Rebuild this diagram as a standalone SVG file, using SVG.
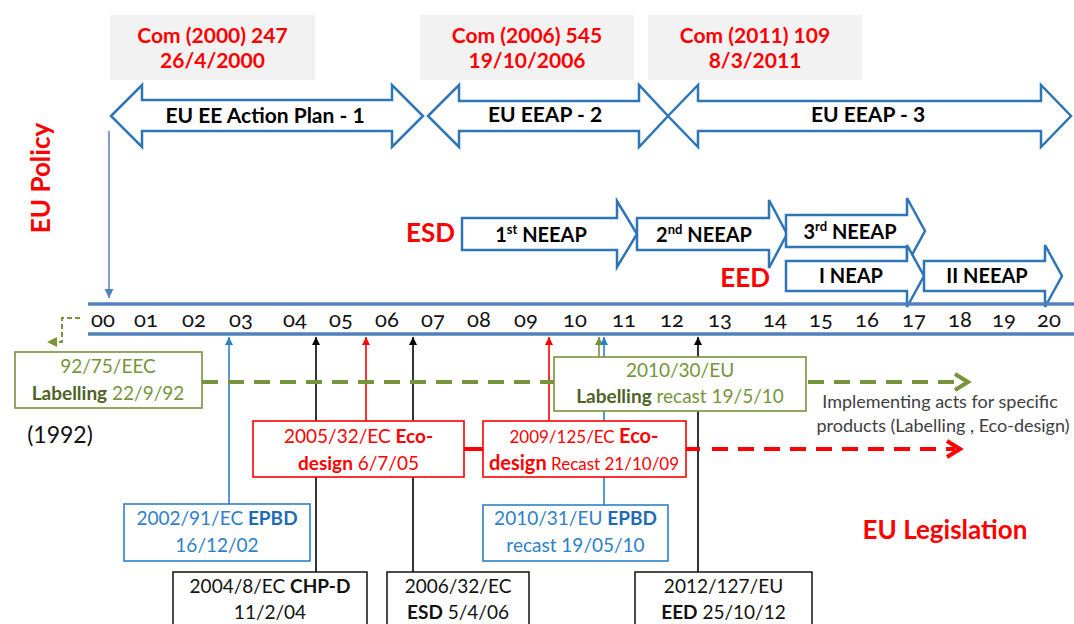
<svg xmlns="http://www.w3.org/2000/svg" width="1074" height="624" viewBox="0 0 1074 624">
<style>
text{font-family:Lato,"Liberation Sans",sans-serif}
.com{font-size:21px;font-weight:bold;fill:#ff0000;text-anchor:middle}
.al{font-size:21px;font-weight:bold;fill:#000;text-anchor:middle}
.big{stroke:#2e75b6;stroke-width:2.5;fill:#fff;stroke-linejoin:miter}
.nl{font-size:20px;font-weight:bold;fill:#000;text-anchor:middle}
.tl{font-size:22px;fill:#111;text-anchor:middle;font-variant-numeric:oldstyle-nums}
.rl{font-size:26px;font-weight:bold;fill:#ff0000}
.bx{font-size:19px;text-anchor:middle}
.b{font-weight:bold}
.gbox{fill:#fff;stroke:#77933c;stroke-width:1.6}
.rbox{fill:#fff;stroke:#ff0000;stroke-width:1.6}
.bbox{fill:#fff;stroke:#2e80c8;stroke-width:1.6}
.kbox{fill:#fff;stroke:#000;stroke-width:1.4}
.gt{fill:#77933c}
.gd{fill:#4f6228}
.rt{fill:#ff0000}
.bt{fill:#2e80c8}
.bd{fill:#1f6ab8}
.kt{fill:#111}
</style>
<defs>
<marker id="mB" viewBox="0 0 8 8" refX="8" refY="4" markerWidth="8" markerHeight="8" markerUnits="userSpaceOnUse" orient="auto"><path d="M0,0 L8,4 L0,8 z" fill="#2e80c8"/></marker>
<marker id="mK" viewBox="0 0 8 8" refX="8" refY="4" markerWidth="8" markerHeight="8" markerUnits="userSpaceOnUse" orient="auto"><path d="M0,0 L8,4 L0,8 z" fill="#000"/></marker>
<marker id="mR" viewBox="0 0 8 8" refX="8" refY="4" markerWidth="8" markerHeight="8" markerUnits="userSpaceOnUse" orient="auto"><path d="M0,0 L8,4 L0,8 z" fill="#ff0000"/></marker>
<marker id="mG" viewBox="0 0 8 8" refX="8" refY="4" markerWidth="8" markerHeight="8" markerUnits="userSpaceOnUse" orient="auto"><path d="M0,0 L8,4 L0,8 z" fill="#77933c"/></marker>
<marker id="mP" viewBox="0 0 8 8" refX="8" refY="4" markerWidth="9" markerHeight="9" markerUnits="userSpaceOnUse" orient="auto"><path d="M0,0 L8,4 L0,8 z" fill="#4f81bd"/></marker>
</defs>

<!-- Policy header boxes -->
<g id="com2000">
<rect x="110" y="15" width="205" height="65" fill="#f2f2f2"/>
<text class="com" x="212.5" y="43">Com (2000) 247</text>
<text class="com" x="212.5" y="68">26/4/2000</text>
</g>
<g id="com2006">
<rect x="420" y="15" width="214" height="65" fill="#f2f2f2"/>
<text class="com" x="527" y="43">Com (2006) 545</text>
<text class="com" x="527" y="68">19/10/2006</text>
</g>
<g id="com2011">
<rect x="648" y="15" width="214" height="65" fill="#f2f2f2"/>
<text class="com" x="755" y="43">Com (2011) 109</text>
<text class="com" x="755" y="68">8/3/2011</text>
</g>

<!-- Action plan double arrows -->
<g id="eeap1">
<polygon class="big" points="111,116 142,85 142,100 392,100 392,85 423,116 392,147 392,131 142,131 142,147"/>
<text class="al" x="265" y="123">EU EE Action Plan - 1</text>
</g>
<g id="eeap2">
<polygon class="big" points="428,116 459,85 459,101 639,101 639,85 668,116 639,147 639,131 459,131 459,147"/>
<text class="al" x="545" y="122">EU EEAP - 2</text>
</g>
<g id="eeap3">
<polygon class="big" points="668,116 698,85 698,101 1041,101 1041,85 1071,116 1041,147 1041,131 698,131 698,147"/>
<text class="al" x="868" y="122">EU EEAP - 3</text>
</g>

<g id="eu-policy">
<text class="rl" transform="translate(50,178) rotate(-90)" text-anchor="middle" font-size="28">EU Policy</text>
</g>

<!-- NEEAP arrows -->
<g id="esd-label"><text class="rl" x="455" y="242" text-anchor="end">ESD</text></g>
<g id="eed-label"><text class="rl" x="770" y="287" text-anchor="end">EED</text></g>
<g id="neeap1">
<polygon class="big" points="462,218 617,218 617,201 637,234 617,267 617,250 462,250"/>
<text class="nl" x="541" y="242">1<tspan font-size="13" dy="-8">st</tspan><tspan dy="8"> NEEAP</tspan></text>
</g>
<g id="neeap2">
<polygon class="big" points="637,218 769,218 769,200 787,234 769,268 769,250 637,250"/>
<text class="nl" x="704" y="242">2<tspan font-size="13" dy="-8">nd</tspan><tspan dy="8"> NEEAP</tspan></text>
</g>
<g id="neeap3">
<polygon class="big" points="786,215 907,215 907,198 925,231 907,264 907,247 786,247"/>
<text class="nl" x="850" y="239">3<tspan font-size="13" dy="-8">rd</tspan><tspan dy="8"> NEEAP</tspan></text>
</g>
<g id="neap1">
<polygon class="big" points="786,261 907,261 907,245 924,276 907,307 907,291 786,291"/>
<text class="nl" x="851" y="283">I NEAP</text>
</g>
<g id="neap2">
<polygon class="big" points="924,261 1045,261 1045,245 1062,276 1045,307 1045,291 924,291"/>
<text class="nl" x="987" y="283">II NEEAP</text>
</g>

<!-- Timeline -->
<g id="timeline">
<line x1="88" y1="304" x2="1074" y2="304" stroke="#4f81bd" stroke-width="3.5"/>
<line x1="88" y1="334" x2="1074" y2="334" stroke="#4f81bd" stroke-width="3.5"/>
<text class="tl" y="327"><tspan x="103">00</tspan><tspan x="146">01</tspan><tspan x="194">02</tspan><tspan x="241">03</tspan><tspan x="295">04</tspan><tspan x="341">05</tspan><tspan x="387">06</tspan><tspan x="433">07</tspan><tspan x="479">08</tspan><tspan x="526">09</tspan><tspan x="575">10</tspan><tspan x="624">11</tspan><tspan x="672">12</tspan><tspan x="720">13</tspan><tspan x="775">14</tspan><tspan x="821">15</tspan><tspan x="867">16</tspan><tspan x="914">17</tspan><tspan x="960">18</tspan><tspan x="1004">19</tspan><tspan x="1049">20</tspan></text>
</g>

<!-- Connectors -->
<g id="connectors" fill="none">
<line x1="109" y1="131" x2="109" y2="298" stroke="#4f81bd" stroke-width="1.5" marker-end="url(#mP)"/>
<path d="M80,318 H62 V342 H56" stroke="#77933c" stroke-width="2" stroke-dasharray="5,3"/>
<polygon points="57,337 47,342 57,347" fill="#77933c"/>
<line x1="229" y1="504" x2="229" y2="337" stroke="#2e80c8" stroke-width="1.6" marker-end="url(#mB)"/>
<line x1="316" y1="572" x2="316" y2="337" stroke="#000" stroke-width="1.6" marker-end="url(#mK)"/>
<line x1="366" y1="421" x2="366" y2="337" stroke="#ff0000" stroke-width="1.6" marker-end="url(#mR)"/>
<line x1="413" y1="572" x2="413" y2="337" stroke="#000" stroke-width="1.6" marker-end="url(#mK)"/>
<line x1="549" y1="421" x2="549" y2="337" stroke="#ff0000" stroke-width="1.6" marker-end="url(#mR)"/>
<line x1="599" y1="357" x2="599" y2="337" stroke="#77933c" stroke-width="1.6" marker-end="url(#mG)"/>
<line x1="604" y1="505" x2="604" y2="337" stroke="#2e80c8" stroke-width="1.6" marker-end="url(#mB)"/>
<line x1="698" y1="572" x2="698" y2="337" stroke="#000" stroke-width="1.6" marker-end="url(#mK)"/>
<line x1="202" y1="382" x2="554" y2="382" stroke="#77933c" stroke-width="4" stroke-dasharray="16,10"/>
<line x1="808" y1="382" x2="962" y2="382" stroke="#77933c" stroke-width="4" stroke-dasharray="16,10"/>
<polyline points="955,374 968,382 955,390" stroke="#77933c" stroke-width="4"/>
<line x1="464" y1="449" x2="483" y2="449" stroke="#ff0000" stroke-width="4"/>
<line x1="686" y1="449" x2="700" y2="449" stroke="#ff0000" stroke-width="4"/>
<line x1="712" y1="449" x2="955" y2="449" stroke="#ff0000" stroke-width="4" stroke-dasharray="16,10"/>
<polyline points="947,441 960,449 947,457" stroke="#ff0000" stroke-width="4"/>
</g>

<!-- Legislation boxes -->
<g id="lab1992">
<rect class="gbox" x="15" y="352" width="187" height="56"/>
<text class="bx gt" x="108" y="373">92/75/EEC</text>
<text class="bx" x="108" y="400"><tspan class="b gd">Labelling</tspan><tspan class="gt"> 22/9/92</tspan></text>
</g>
<g id="y1992"><text x="60" y="443" font-size="23" fill="#111" text-anchor="middle">(1992)</text></g>
<g id="lab2010">
<rect class="gbox" x="554" y="357" width="252" height="54"/>
<text class="bx gt" x="680" y="377">2010/30/EU</text>
<text class="bx" x="680" y="403"><tspan class="b gd">Labelling</tspan><tspan class="gt"> recast 19/5/10</tspan></text>
</g>
<g id="impl">
<text x="940" y="408" font-size="18" fill="#404040" text-anchor="middle">Implementing acts for  specific</text>
<text x="943" y="432" font-size="18" fill="#404040" text-anchor="middle">products (Labelling , Eco-design)</text>
</g>
<g id="eco2005">
<rect class="rbox" x="253" y="421" width="211" height="56"/>
<text class="bx rt" x="358.5" y="443">2005/32/EC <tspan class="b">Eco-</tspan></text>
<text class="bx rt" x="358.5" y="470"><tspan class="b">design</tspan> 6/7/05</text>
</g>
<g id="eco2009">
<rect class="rbox" x="483" y="421" width="203" height="56"/>
<text class="bx rt" x="584" y="443"><tspan font-size="17">2009/125/EC </tspan><tspan class="b" font-size="20">Eco-</tspan></text>
<text class="bx rt" x="584" y="470"><tspan class="b" font-size="20">design</tspan><tspan font-size="17"> Recast  21/10/09</tspan></text>
</g>
<g id="epbd2002">
<rect class="bbox" x="124" y="504" width="186" height="57"/>
<text class="bx bt" x="217" y="525">2002/91/EC <tspan class="b bd">EPBD</tspan></text>
<text class="bx bt" x="217" y="552">16/12/02</text>
</g>
<g id="epbd2010">
<rect class="bbox" x="483" y="505" width="185" height="56"/>
<text class="bx bt" x="575.5" y="525">2010/31/EU <tspan class="b bd">EPBD</tspan></text>
<text class="bx bt" x="575.5" y="552">recast 19/05/10</text>
</g>
<g id="chp2004">
<rect class="kbox" x="173" y="572" width="194" height="70"/>
<text class="bx kt" x="270" y="593">2004/8/EC <tspan class="b">CHP-D</tspan></text>
<text class="bx kt" x="270" y="619">11/2/04</text>
</g>
<g id="esd2006">
<rect class="kbox" x="387" y="572" width="142" height="70"/>
<text class="bx kt" x="458" y="593">2006/32/EC</text>
<text class="bx kt" x="458" y="619"><tspan class="b">ESD</tspan> 5/4/06</text>
</g>
<g id="eed2012">
<rect class="kbox" x="635" y="572" width="177" height="70"/>
<text class="bx kt" x="723.5" y="593">2012/127/EU</text>
<text class="bx kt" x="723.5" y="619"><tspan class="b">EED</tspan> 25/10/12</text>
</g>
<g id="eu-legislation"><text class="rl" x="945" y="539" text-anchor="middle">EU Legislation</text></g>
</svg>
